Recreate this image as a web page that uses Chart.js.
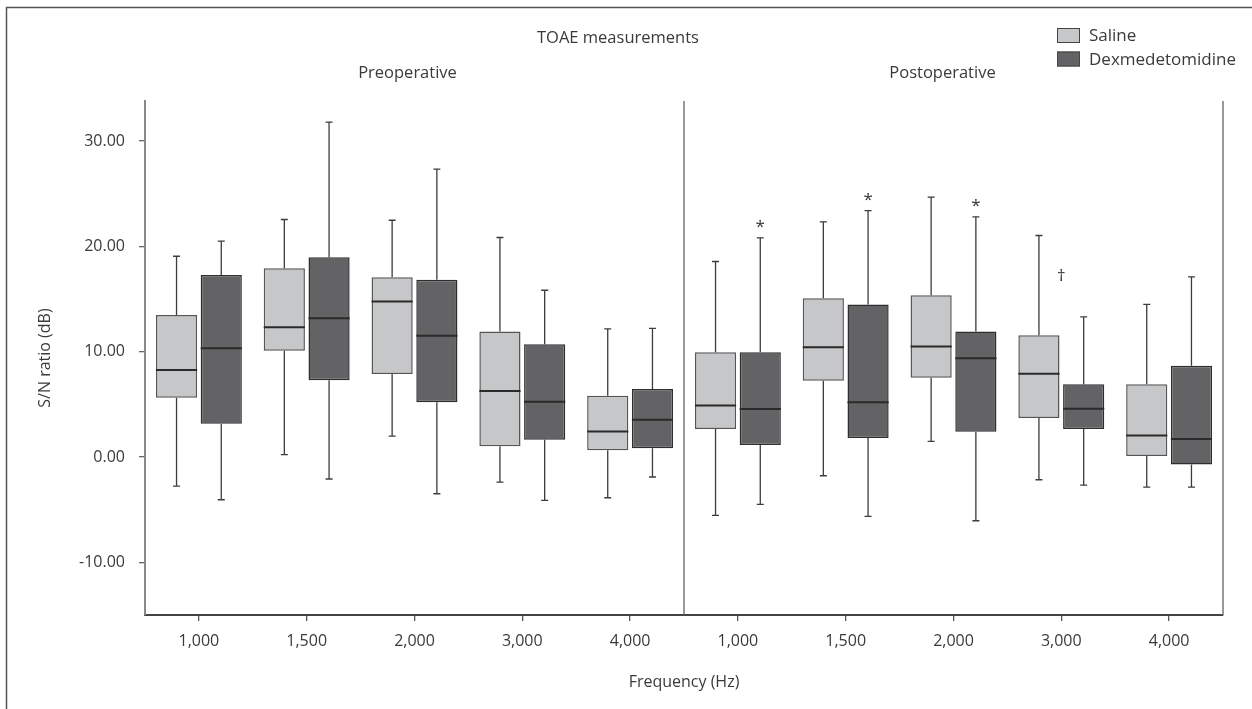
<!DOCTYPE html>
<html><head><meta charset="utf-8">
<script src="https://cdn.jsdelivr.net/npm/chart.js@4.4.1/dist/chart.umd.min.js"></script>
<style>html,body{margin:0;padding:0;background:#fff;}canvas{display:block;}</style>
</head><body>
<canvas id="c" width="1252" height="709"></canvas>
<script>
// ---- data ----
const categories = ['1,000','1,500','2,000','3,000','4,000','1,000','1,500','2,000','3,000','4,000'];
const panelTitles = ['Preoperative','Postoperative'];
const seriesNames = ['Saline','Dexmedetomidine'];
const yTicks = [-10, 0, 10, 20, 30];

const salineMin = [-2.76, 0.22, 1.99, -2.38, -3.87, -5.55, -1.78, 1.48, -2.16, -2.85];
const salineQ1  = [5.63, 10.10, 7.88, 1.01, 0.63, 2.66, 7.25, 7.53, 3.70, 0.09];
const salineMed = [8.26, 12.32, 14.76, 6.27, 2.43, 4.90, 10.42, 10.48, 7.91, 2.05];
const salineQ3  = [13.49, 17.92, 17.07, 11.91, 5.82, 9.94, 15.07, 15.36, 11.56, 6.90];
const salineMax = [19.06, 22.55, 22.48, 20.84, 12.16, 18.56, 22.33, 24.67, 21.03, 14.50];

const dexMin = [-4.06, -2.09, -3.49, -4.12, -1.90, -4.50, -5.64, -6.05, -2.66, -2.85];
const dexQ1  = [3.16, 7.28, 5.19, 1.64, 0.82, 1.14, 1.80, 2.40, 2.66, -0.70];
const dexMed = [10.32, 13.17, 11.52, 5.25, 3.54, 4.56, 5.19, 9.37, 4.59, 1.71];
const dexQ3  = [17.29, 18.97, 16.82, 10.70, 6.46, 9.94, 14.47, 11.91, 6.90, 8.67];
const dexMax = [20.49, 31.79, 27.33, 15.83, 12.22, 20.81, 23.40, 22.80, 13.30, 17.10];

// significance marks: category index, dataset index (-1 = between boxes), symbol, value
const markCat = [5, 6, 7, 8];
const markDs  = [1, 1, 1, -1];
const markSym = ['*', '*', '*', '\u2020'];
const markVal = [22.2, 24.8, 24.2, 17.2];

const FONT = '"Open Sans", "DejaVu Sans", sans-serif';
const TXT = '#3a3a3a';
const fills = ['#c6c7c9', '#636365'];
const borders = ['#555555', '#2e2e2e'];

const stats = [
  {min: salineMin, q1: salineQ1, med: salineMed, q3: salineQ3, max: salineMax},
  {min: dexMin, q1: dexQ1, med: dexMed, q3: dexQ3, max: dexMax}
];

const boxPlugin = {
  id: 'boxExtras',
  beforeDraw(chart) {
    const ctx = chart.ctx;
    ctx.save();
    ctx.strokeStyle = '#555';
    ctx.lineWidth = 1.5;
    ctx.beginPath();
    ctx.moveTo(6.5, 709); ctx.lineTo(6.5, 7.5); ctx.lineTo(1252, 7.5);
    ctx.stroke();
    ctx.restore();
  },
  afterDatasetsDraw(chart) {
    const ctx = chart.ctx;
    const ys = chart.scales.y, xs = chart.scales.x;
    const area = chart.chartArea;
    ctx.save();
    stats.forEach((st, di) => {
      const meta = chart.getDatasetMeta(di);
      meta.data.forEach((bar, i) => {
        const x = bar.x, w = bar.width;
        const yMin = ys.getPixelForValue(st.min[i]);
        const yQ1 = ys.getPixelForValue(st.q1[i]);
        const yQ3 = ys.getPixelForValue(st.q3[i]);
        const yMax = ys.getPixelForValue(st.max[i]);
        const yMed = ys.getPixelForValue(st.med[i]);
        ctx.strokeStyle = '#3c3c3c';
        ctx.lineWidth = 1.3;
        ctx.beginPath();
        ctx.moveTo(x, yQ3); ctx.lineTo(x, yMax);
        ctx.moveTo(x - 3.5, yMax); ctx.lineTo(x + 3.5, yMax);
        ctx.moveTo(x, yQ1); ctx.lineTo(x, yMin);
        ctx.moveTo(x - 3.5, yMin); ctx.lineTo(x + 3.5, yMin);
        ctx.stroke();
        ctx.strokeStyle = '#2a2a2a';
        ctx.lineWidth = 2;
        ctx.beginPath();
        ctx.moveTo(x - w / 2, yMed); ctx.lineTo(x + w / 2, yMed);
        ctx.stroke();
      });
    });
    // significance marks
    ctx.fillStyle = '#333';
    ctx.font = '17px ' + FONT;
    ctx.textAlign = 'center';
    ctx.textBaseline = 'middle';
    markCat.forEach((c, k) => {
      let x;
      if (markDs[k] >= 0) x = chart.getDatasetMeta(markDs[k]).data[c].x;
      else x = xs.getPixelForValue(c);
      const y = ys.getPixelForValue(markVal[k]);
      ctx.fillText(markSym[k], x, y + (markSym[k] === '*' ? 4 : 0));
    });
    // panel divider and right border
    const xDiv = (xs.getPixelForValue(4) + xs.getPixelForValue(5)) / 2;
    ctx.strokeStyle = '#555';
    ctx.lineWidth = 1.2;
    ctx.beginPath();
    ctx.moveTo(xDiv, area.top); ctx.lineTo(xDiv, area.bottom);
    ctx.stroke();
    ctx.strokeStyle = '#777';
    ctx.lineWidth = 1.5;
    ctx.beginPath();
    ctx.moveTo(area.right, area.top); ctx.lineTo(area.right, area.bottom);
    ctx.stroke();
    // titles
    ctx.fillStyle = TXT;
    ctx.font = '16.5px ' + FONT;
    ctx.textBaseline = 'middle';
    ctx.textAlign = 'left';
    ctx.fillText('TOAE measurements', 537, 38);
    ctx.textAlign = 'center';
    ctx.fillText(panelTitles[0], (area.left + xDiv) / 2 - 7, 73);
    ctx.fillText(panelTitles[1], (xDiv + area.right) / 2 - 11, 73);
    ctx.font = '16px ' + FONT;
    ctx.fillText('Frequency (Hz)', (area.left + area.right) / 2, 682);
    ctx.save();
    ctx.translate(45, (area.top + area.bottom) / 2);
    ctx.rotate(-Math.PI / 2);
    ctx.fillText('S/N ratio (dB)', 0, 0);
    ctx.restore();
    // legend
    ctx.font = '17px ' + FONT;
    ctx.textAlign = 'left';
    seriesNames.forEach((n, k) => {
      const by = 28 + k * 23.5;
      ctx.fillStyle = fills[k];
      ctx.fillRect(1057, by, 23, 15);
      ctx.strokeStyle = '#444';
      ctx.lineWidth = 1;
      ctx.strokeRect(1057.5, by + 0.5, 22, 14);
      ctx.fillStyle = TXT;
      ctx.fillText(n, 1089, by + 8.5);
    });
    ctx.restore();
  }
};

new Chart(document.getElementById('c'), {
  type: 'bar',
  data: {
    labels: categories,
    datasets: stats.map((st, di) => ({
      label: seriesNames[di],
      data: st.q1.map((v, i) => [v, st.q3[i]]),
      backgroundColor: fills[di],
      borderColor: borders[di],
      borderWidth: 1.5,
      borderSkipped: false,
      categoryPercentage: 0.83,
      barPercentage: 0.92
    }))
  },
  options: {
    responsive: false,
    animation: false,
    devicePixelRatio: 1,
    layout: { padding: { top: 101, right: 29, left: 0, bottom: 0 } },
    plugins: { legend: { display: false }, tooltip: { enabled: false } },
    scales: {
      x: {
        offset: true,
        afterFit(s) { s.height = 94; },
        grid: { offset: false, drawOnChartArea: false, drawTicks: true, tickLength: 6, color: '#555', lineWidth: 1.3 },
        border: { display: true, color: '#444', width: 2 },
        ticks: { color: TXT, font: { family: FONT, size: 16 }, padding: 11, maxRotation: 0, autoSkip: false }
      },
      y: {
        min: -15,
        max: 33.8,
        afterFit(s) { s.width = 145; },
        afterBuildTicks(s) { s.ticks = yTicks.map(v => ({ value: v })); },
        grid: { drawOnChartArea: false, drawTicks: true, tickLength: 6, color: '#666', lineWidth: 1.3 },
        border: { display: true, color: '#888', width: 2 },
        ticks: { color: TXT, font: { family: FONT, size: 16 }, padding: 14, callback: v => v.toFixed(2) }
      }
    }
  },
  plugins: [boxPlugin]
});
</script>
</body></html>
